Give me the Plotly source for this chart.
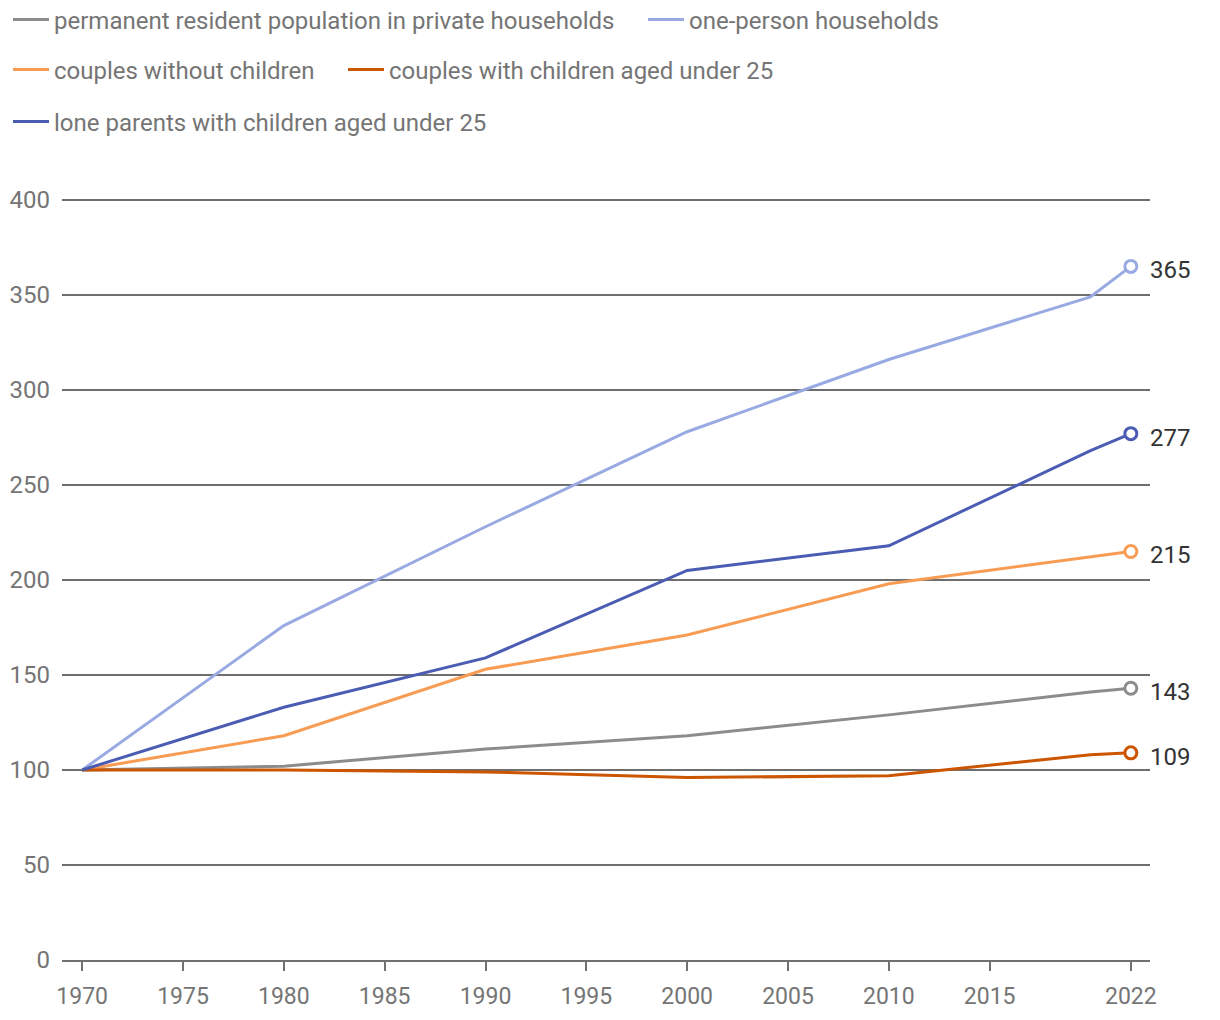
import plotly.graph_objects as go

years = [1970, 1980, 1990, 2000, 2010, 2020, 2022]
names = [
    "permanent resident population in private households",
    "one-person households",
    "couples without children",
    "couples with children aged under 25",
    "lone parents with children aged under 25",
]
population = [100, 102, 111, 118, 129, 141, 143]
one_person = [100, 176, 228, 278, 316, 349, 365]
couples_no_children = [100, 118, 153, 171, 198, 212, 215]
couples_children = [100, 100, 99, 96, 97, 108, 109]
lone_parents = [100, 133, 159, 205, 218, 268, 277]
series = [population, one_person, couples_no_children, couples_children, lone_parents]
colors = ["#8c8c8c", "#99aae3", "#f89c54", "#cc5500", "#4a5db3"]
legend_ids = ["legend", "legend2", "legend3", "legend4", "legend5"]
# legend placement (page px): left x of symbol, centre y of row
legend_pos = [(16, 20), (658, 20), (16, 70), (358, 70), (16, 122)]

x_tickvals = [1970, 1975, 1980, 1985, 1990, 1995, 2000, 2005, 2010, 2015, 2022]
y_tickvals = [0, 50, 100, 150, 200, 250, 300, 350, 400]

W, H = 1220, 1020
OFF = 8  # page body margin

fig = go.Figure()
for name, vals, col, lg in zip(names, series, colors, legend_ids):
    fig.add_trace(go.Scatter(
        x=years, y=vals, mode="lines", name=name,
        line=dict(color=col, width=3), legend=lg,
    ))
for name, vals, col in zip(names, series, colors):
    fig.add_trace(go.Scatter(
        x=[years[-1]], y=[vals[-1]], mode="markers",
        marker=dict(size=12, color="white", line=dict(color=col, width=3)),
        showlegend=False, cliponaxis=False, hoverinfo="skip",
    ))
    fig.add_annotation(
        x=years[-1], y=vals[-1], text=str(vals[-1]), showarrow=False,
        xanchor="left", yanchor="middle", xshift=17, yshift=-4,
        font=dict(family="Roboto", size=24, color="#333333"),
    )

legends = {}
for lg, (px, py) in zip(legend_ids, legend_pos):
    legends[lg] = dict(
        orientation="h", xref="container", yref="container",
        x=(px - OFF - 15) / W, y=1 - (py - OFF) / H,
        xanchor="left", yanchor="middle", itemwidth=36,
        font=dict(family="Roboto", size=24, color="#757575"),
        bgcolor="rgba(0,0,0,0)",
    )

fig.update_layout(
    width=W, height=H,
    margin=dict(l=54, r=78, t=190, b=68),
    paper_bgcolor="white", plot_bgcolor="white",
    font=dict(family="Roboto", size=23, color="#757575"),
    xaxis=dict(
        range=[1969.0, 2022.95], tickvals=x_tickvals, automargin=False,
        ticks="outside", ticklen=9, tickwidth=2, tickcolor="#707070",
        showline=True, linecolor="#707070", linewidth=2,
        showgrid=False, zeroline=False, ticklabelstandoff=5,
        tickfont=dict(family="Roboto", size=23, color="#757575"),
    ),
    yaxis=dict(
        range=[0, 401], tickvals=y_tickvals, automargin=False,
        showgrid=True, gridcolor="#6e6e6e", gridwidth=1.5,
        zeroline=False, showline=False, ticks="",
        ticklabelstandoff=11,
        tickfont=dict(family="Roboto", size=24, color="#757575"),
    ),
    showlegend=True,
    **legends,
)
fig.write_html("out.html")
